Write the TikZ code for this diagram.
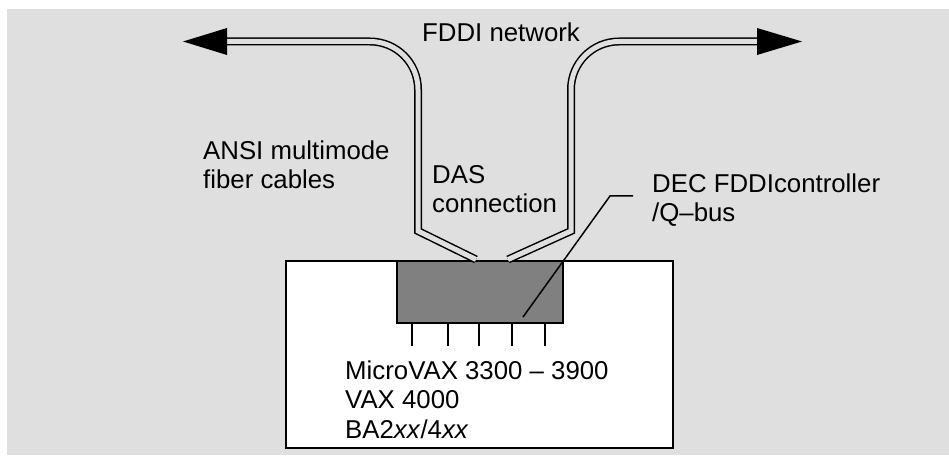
\documentclass[tikz,border=0pt]{standalone}
\usepackage{fontspec}
\setmainfont{Liberation Sans}
\usepackage{tikz}
\usetikzlibrary{positioning,calc}
\definecolor{PanelGray}{HTML}{DFDFDF}
\definecolor{CardGray}{HTML}{808080}
\tikzset{
  cable/.style={line width=1.5pt,double=PanelGray,double distance=5pt,line join=miter},
  tipfill/.style={fill=black,draw=none},
  lbl/.style={inner sep=0pt,anchor=base west,align=left,
              font=\fontsize{25.8}{29.5}\selectfont},
  thin/.style={line width=1.5pt}
}
\begin{document}
\begin{tikzpicture}[x=1pt,y=1pt]
  \useasboundingbox (0,0) rectangle (949,455);
  \fill[PanelGray] (7,0) rectangle (949,446);

  \node[draw,line width=2pt,fill=white,minimum width=387pt,minimum height=187pt,inner sep=0pt] (host) at (479.5,100.5) {};
  \node[draw,line width=2pt,fill=CardGray,minimum width=166pt,minimum height=62pt,inner sep=0pt] (ctrl) at (480,163) {};

  \coordinate (lPort) at (476,195.5);
  \coordinate (rPort) at (508,195.5);
  \coordinate (lTip) at (183,413.5);
  \coordinate (rTip) at (802,413.5);

  \draw[cable] (lPort) -- (418,224) -- (418,365.5) arc[start angle=0,end angle=90,radius=48] -- (227,413.5);
  \draw[cable] (rPort) -- (571,224) -- (571,365.5) arc[start angle=180,end angle=90,radius=48] -- (757,413.5);
  \fill[tipfill] (lTip) -- (227,427) -- (227,400) -- cycle;
  \fill[tipfill] (rTip) -- (757,427) -- (757,400) -- cycle;

  \foreach \x in {412,448,479,512,545}
    \draw[thin] (ctrl.south -| \x,0) -- ++(0,-22);

  \node[lbl] (net) at (422,413) {FDDI network};
  \node[lbl] (ansi) at (203,266) {ANSI multimode\\fiber cables};
  \node[lbl] (das) at (432,242) {DAS\\connection};
  \node[lbl] (dec) at (652,233) {DEC FDDIcontroller\\/Q--bus};
  \node[lbl] (sys) at (345,17) {MicroVAX 3300 -- 3900\\VAX 4000\\BA2\textit{xx}/4\textit{xx}};

  \coordinate (ldr) at (523,138);
  \draw[thin] (ldr) -- (610,259) -- (633,259);
\end{tikzpicture}
\end{document}
